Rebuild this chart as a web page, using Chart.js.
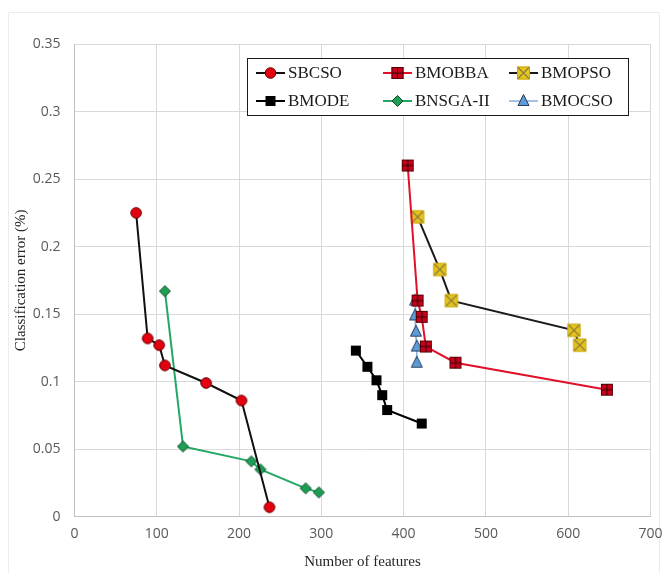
<!DOCTYPE html>
<html>
<head>
<meta charset="utf-8">
<script src="https://cdn.jsdelivr.net/npm/chart.js@4/dist/chart.umd.min.js"></script>
<style>
  html, body { margin: 0; padding: 0; background: #fff; }
  #wrap { width: 663px; height: 573px; position: relative; }
</style>
</head>
<body>
<div id="wrap"><canvas id="c" width="663" height="573"></canvas></div>
<script>
// Pareto fronts: number of selected features vs. classification error
const seriesNames = ['SBCSO', 'BMOBBA', 'BMOPSO', 'BMODE', 'BNSGA-II', 'BMOCSO'];

const sbcsoFeatures = [75, 89, 103, 110, 160, 203, 237];
const sbcsoError    = [0.225, 0.132, 0.127, 0.112, 0.099, 0.086, 0.007];

const bmobbaFeatures = [405, 417, 422, 427, 463, 647];
const bmobbaError    = [0.260, 0.160, 0.148, 0.126, 0.114, 0.094];

const bmopsoFeatures = [417, 444, 458, 607, 614];
const bmopsoError    = [0.222, 0.183, 0.160, 0.138, 0.127];

const bmodeFeatures = [342, 356, 367, 374, 380, 422];
const bmodeError    = [0.123, 0.111, 0.101, 0.090, 0.079, 0.069];

const bnsgaFeatures = [110, 132, 215, 226, 281, 297];
const bnsgaError    = [0.167, 0.052, 0.041, 0.035, 0.021, 0.018];

const bmocsoFeatures = [414, 414, 415, 416, 416];
const bmocsoError    = [0.160, 0.149, 0.137, 0.126, 0.114];

const xTickValues = [0, 100, 200, 300, 400, 500, 600, 700];
const yTickLabels = ['0', '0.05', '0.1', '0.15', '0.2', '0.25', '0.3', '0.35'];

const xTitle = 'Number of features';
const yTitle = 'Classification error (%)';

function toPoints(xs, ys) {
  return xs.map((x, i) => ({ x: x, y: ys[i] }));
}

// Marker painters
function paintMarker(ctx, kind, cx, cy) {
  ctx.save();
  ctx.lineWidth = 1;
  switch (kind) {
    case 'redCircle':
      ctx.beginPath();
      ctx.arc(cx, cy, 5.3, 0, Math.PI * 2);
      ctx.fillStyle = '#e3000f';
      ctx.fill();
      ctx.strokeStyle = '#6a0000';
      ctx.stroke();
      break;
    case 'redSquarePlus': {
      const h = 6;
      ctx.fillStyle = '#c8001e';
      ctx.fillRect(cx - h, cy - h, 2 * h, 2 * h);
      ctx.strokeStyle = '#5a0000';
      ctx.strokeRect(cx - h + 0.5, cy - h + 0.5, 2 * h - 1, 2 * h - 1);
      ctx.beginPath();
      ctx.moveTo(cx, cy - h); ctx.lineTo(cx, cy + h);
      ctx.moveTo(cx - h, cy); ctx.lineTo(cx + h, cy);
      ctx.strokeStyle = '#2a0000';
      ctx.stroke();
      break;
    }
    case 'yellowX': {
      const h = 6.5;
      ctx.fillStyle = '#e6c41c';
      ctx.fillRect(cx - h, cy - h, 2 * h, 2 * h);
      ctx.strokeStyle = '#c9a912';
      ctx.strokeRect(cx - h + 0.5, cy - h + 0.5, 2 * h - 1, 2 * h - 1);
      ctx.beginPath();
      ctx.moveTo(cx - h + 1, cy - h + 1); ctx.lineTo(cx + h - 1, cy + h - 1);
      ctx.moveTo(cx + h - 1, cy - h + 1); ctx.lineTo(cx - h + 1, cy + h - 1);
      ctx.strokeStyle = '#8c7d3c';
      ctx.lineWidth = 1.2;
      ctx.stroke();
      break;
    }
    case 'blackSquare': {
      const h = 5;
      ctx.fillStyle = '#000';
      ctx.fillRect(cx - h, cy - h, 2 * h, 2 * h);
      break;
    }
    case 'greenDiamond': {
      const h = 5.5;
      ctx.beginPath();
      ctx.moveTo(cx, cy - h); ctx.lineTo(cx + h, cy);
      ctx.lineTo(cx, cy + h); ctx.lineTo(cx - h, cy);
      ctx.closePath();
      ctx.fillStyle = '#1e9e55';
      ctx.fill();
      ctx.strokeStyle = '#0b4d28';
      ctx.stroke();
      break;
    }
    case 'blueTriangle': {
      ctx.beginPath();
      ctx.moveTo(cx, cy - 6.5); ctx.lineTo(cx + 5.5, cy + 4.5);
      ctx.lineTo(cx - 5.5, cy + 4.5);
      ctx.closePath();
      ctx.fillStyle = '#5d9bd6';
      ctx.fill();
      ctx.strokeStyle = '#263f5c';
      ctx.stroke();
      break;
    }
  }
  ctx.restore();
}

function markerImage(kind) {
  const cv = document.createElement('canvas');
  cv.width = 16; cv.height = 16;
  paintMarker(cv.getContext('2d'), kind, 8, 8);
  return cv;
}

const seriesMarkers = ['redCircle', 'redSquarePlus', 'yellowX', 'blackSquare', 'greenDiamond', 'blueTriangle'];
const seriesLineColors = ['#111111', '#e0102a', '#1a1a1a', '#000000', '#22a862', '#8db3de'];
const seriesLineWidths = [2, 2, 2, 2, 2, 1.6];
const seriesData = [
  toPoints(sbcsoFeatures, sbcsoError),
  toPoints(bmobbaFeatures, bmobbaError),
  toPoints(bmopsoFeatures, bmopsoError),
  toPoints(bmodeFeatures, bmodeError),
  toPoints(bnsgaFeatures, bnsgaError),
  toPoints(bmocsoFeatures, bmocsoError)
];

const datasets = seriesNames.map((name, i) => ({
  label: name,
  data: seriesData[i],
  showLine: true,
  borderColor: seriesLineColors[i],
  borderWidth: seriesLineWidths[i],
  pointStyle: markerImage(seriesMarkers[i]),
  pointRadius: 6,
  pointHoverRadius: 6,
  tension: 0,
  markerKind: seriesMarkers[i]
}));

// White page with a faint outer frame
const framePlugin = {
  id: 'frame',
  beforeDraw(chart) {
    const ctx = chart.ctx;
    ctx.save();
    ctx.fillStyle = '#ffffff';
    ctx.fillRect(0, 0, chart.width, chart.height);
    ctx.strokeStyle = '#ececec';
    ctx.lineWidth = 1;
    ctx.beginPath();
    ctx.moveTo(8.5, chart.height);
    ctx.lineTo(8.5, 12.5);
    ctx.lineTo(chart.width - 3.5, 12.5);
    ctx.lineTo(chart.width - 3.5, chart.height);
    ctx.stroke();
    ctx.restore();
  }
};

// Boxed legend in three columns, two rows
const boxLegend = {
  id: 'boxLegend',
  afterDraw(chart) {
    const ctx = chart.ctx;
    const box = { x: 247.5, y: 58.5, w: 381, h: 57 };
    const colX = [256, 383, 509];
    const rowY = [73, 101];
    ctx.save();
    ctx.fillStyle = '#ffffff';
    ctx.fillRect(box.x, box.y, box.w, box.h);
    ctx.strokeStyle = '#1a1a1a';
    ctx.lineWidth = 1;
    ctx.strokeRect(box.x, box.y, box.w, box.h);
    ctx.font = '17px "Liberation Serif", "Times New Roman", serif';
    ctx.textBaseline = 'middle';
    ctx.textAlign = 'left';
    chart.data.datasets.forEach((ds, i) => {
      const x0 = colX[i % 3];
      const y = rowY[Math.floor(i / 3)];
      const len = 29;
      ctx.strokeStyle = ds.borderColor;
      ctx.lineWidth = ds.borderWidth;
      ctx.beginPath();
      ctx.moveTo(x0, y);
      ctx.lineTo(x0 + len, y);
      ctx.stroke();
      paintMarker(ctx, ds.markerKind, x0 + len / 2, y);
      ctx.fillStyle = '#1a1a1a';
      ctx.fillText(ds.label, x0 + len + 3, y + 1);
    });
    ctx.restore();
  }
};

const tickFont = { family: '"Open Sans", "Liberation Sans", sans-serif', size: 14 };
const titleFont = { family: '"Liberation Serif", "Times New Roman", serif', size: 15 };

new Chart(document.getElementById('c'), {
  type: 'scatter',
  data: { datasets: datasets },
  options: {
    responsive: false,
    animation: false,
    devicePixelRatio: 1,
    layout: { padding: { top: 44, right: 12.5, left: 0, bottom: 0 } },
    plugins: {
      legend: { display: false },
      tooltip: { enabled: false }
    },
    scales: {
      x: {
        type: 'linear',
        min: 0,
        max: 700,
        afterBuildTicks(scale) {
          scale.ticks = xTickValues.map(v => ({ value: v }));
        },
        afterFit(scale) {
          scale.height = 56.3;
          scale.paddingLeft = 0;
          scale.paddingRight = 0;
        },
        grid: { color: '#d9d9d9', drawTicks: false, lineWidth: 1 },
        border: { display: true, color: '#bfbfbf' },
        ticks: { font: tickFont, color: '#595959', padding: 9, maxRotation: 0 },
        title: {
          display: true,
          text: xTitle,
          font: titleFont,
          color: '#262626',
          padding: { top: 0, bottom: 1.6 }
        }
      },
      y: {
        type: 'linear',
        min: 0,
        max: 0.35,
        ticks: {
          stepSize: 0.05,
          font: tickFont,
          color: '#595959',
          padding: 14,
          callback: (v, i) => yTickLabels[i]
        },
        afterFit(scale) {
          scale.width = 74.4;
          scale.paddingTop = 0;
          scale.paddingBottom = 0;
        },
        grid: { color: '#d9d9d9', drawTicks: false, lineWidth: 1 },
        border: { display: true, color: '#bfbfbf' },
        title: {
          display: true,
          text: yTitle,
          font: titleFont,
          color: '#262626',
          padding: { top: 11.6, bottom: 0 }
        }
      }
    }
  },
  plugins: [framePlugin, boxLegend]
});
</script>
</body>
</html>
